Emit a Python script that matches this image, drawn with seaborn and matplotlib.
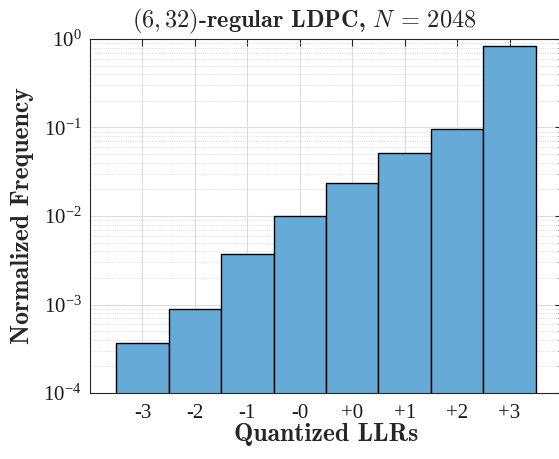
import numpy as np
import pandas as pd
import seaborn as sns
import matplotlib.pyplot as plt
from matplotlib.ticker import LogLocator, LogFormatterMathtext, NullFormatter

# dados
categorias = ['-3', '-2', '-1', '-0', '+0', '+1', '+2', '+3']
frequencias = [3.7e-4, 9.0e-4, 3.75e-3, 1.0e-2, 2.35e-2, 5.15e-2, 9.5e-2, 0.84]

df = pd.DataFrame({'llr': categorias, 'freq': frequencias})

sns.set_style('white')
plt.rcParams['font.family'] = ['Liberation Serif', 'DejaVu Serif']
plt.rcParams['mathtext.fontset'] = 'stix'

fig = plt.figure(figsize=(5.59, 4.59), dpi=100)
ax = fig.add_axes([90 / 559, 66 / 459, 472 / 559, 354 / 459])

sns.barplot(data=df, x='llr', y='freq', color='#66AAD7', saturation=1,
            width=1.0, edgecolor='black', linewidth=1.0, ax=ax)
ax.set_yscale('log')
ax.set_ylim(1e-4, 1)
ax.set_xlim(-1, 8)

ax.yaxis.set_major_locator(LogLocator(base=10, numticks=10))
ax.yaxis.set_major_formatter(LogFormatterMathtext())
ax.yaxis.set_minor_locator(LogLocator(base=10, subs=np.arange(2, 10), numticks=20))
ax.yaxis.set_minor_formatter(NullFormatter())

ax.set_axisbelow(True)
ax.grid(True, which='major', color='#dcdcdc', linewidth=0.8, linestyle='-')
ax.grid(True, which='minor', axis='y', color='#d0d0d0', linewidth=0.6, linestyle=':')

ax.tick_params(which='both', direction='in', top=True, right=True,
               colors='#262626', labelcolor='#1a1a1a', labelsize=15)
ax.tick_params(which='major', length=5)
ax.tick_params(which='minor', length=3)
ax.tick_params(axis='x', pad=8)
ax.tick_params(axis='y', pad=6)
for s in ax.spines.values():
    s.set_color('#262626')
    s.set_linewidth(0.8)

ax.set_title(r'$(6,32)$-regular LDPC, $N\,=\,2048$', fontsize=17.5,
             fontfamily='cmb10', math_fontfamily='cm', pad=8, x=0.455)
ax.set_xlabel('Quantized LLRs', fontsize=18.5, fontfamily='cmb10', labelpad=0)
ax.set_ylabel('Normalized Frequency', fontsize=18.5, fontfamily='cmb10', labelpad=7)

plt.savefig('out.png', dpi=100)
plt.close()
